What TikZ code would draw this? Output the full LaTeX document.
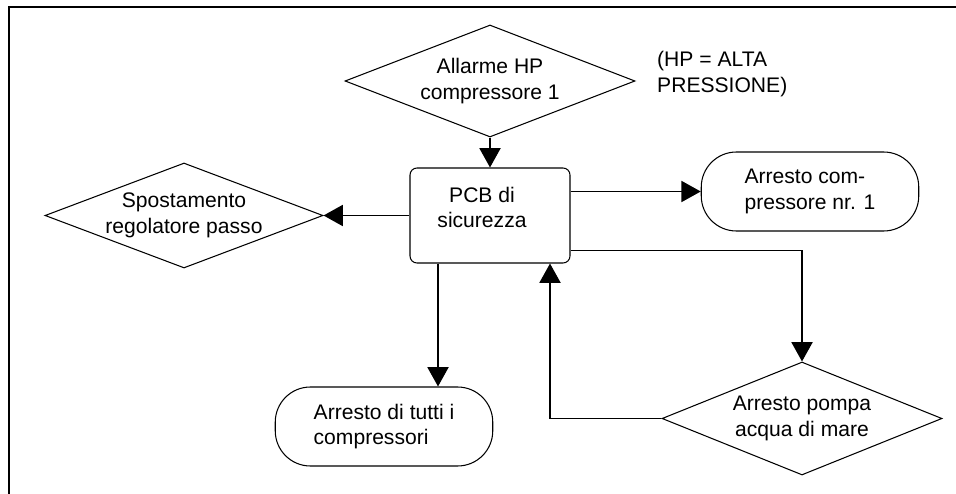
\documentclass[tikz,border=0pt]{standalone}
\usepackage{fontspec}
\setmainfont{Liberation Sans}
\usetikzlibrary{shapes.geometric,arrows.meta}

\begin{document}
\begin{tikzpicture}[
    font=\fontsize{12}{14.5}\selectfont,
    cond/.style={draw,diamond,line width=0.6pt,inner sep=0pt},
    term/.style={draw,rectangle,rounded corners=20pt,line width=0.6pt,
      minimum width=4.35cm,minimum height=1.58cm,align=left},
    flow/.style={line width=0.9pt,-{Triangle[length=11pt,width=12pt]}}
  ]
    \useasboundingbox (0,0) rectangle (19.12,-9.88);
    \clip (0,0) rectangle (19.12,-9.88);
    \draw[line width=1.3pt] (0.18,-0.14) rectangle (20,-11);

    \node[cond,minimum width=5.8cm,minimum height=2.24cm,
        label={[align=center]center:Allarme HP\\compressore 1}] (al) at (9.8,-1.62) {};
    \node[anchor=west,align=left] (nota) at (13.02,-1.48)
        {(HP = ALTA\\PRESSIONE)};
    \node[draw,rectangle,rounded corners=4pt,line width=0.6pt,
        minimum width=3.2cm,minimum height=1.9cm,
        label={[align=center,xshift=-0.16cm,yshift=0.16cm]center:PCB di\\sicurezza}] (pcb) at (9.8,-4.31) {};
    \node[term] (c1) at (16.2,-3.83) {Arresto com-\\pressore nr. 1};
    \node[cond,minimum width=5.56cm,minimum height=2.1cm,
        label={[align=center]center:Spostamento\\regolatore passo}] (sp) at (3.68,-4.31) {};
    \node[cond,minimum width=5.6cm,minimum height=2.26cm,
        label={[align=center]center:Arresto pompa\\acqua di mare}] (ap) at (16.04,-8.37) {};
    \node[term] (c2) at (7.68,-8.53) {Arresto di tutti i\\compressori};

    \draw[flow] (al.south) -- (pcb.north);
    \draw[flow] (pcb.east |- c1) -- (c1.west);
    \draw[flow] ([yshift=0.26cm]pcb.south east) -| (ap.north);
    \draw[flow] (pcb.west) -- (sp.east);
    \draw[flow] ([xshift=-1.04cm]pcb.south) -- ([xshift=-1.04cm]pcb.south |- c2.north);
    \draw[flow] (ap.west) -| ([xshift=1.2cm]pcb.south);
\end{tikzpicture}
\end{document}
